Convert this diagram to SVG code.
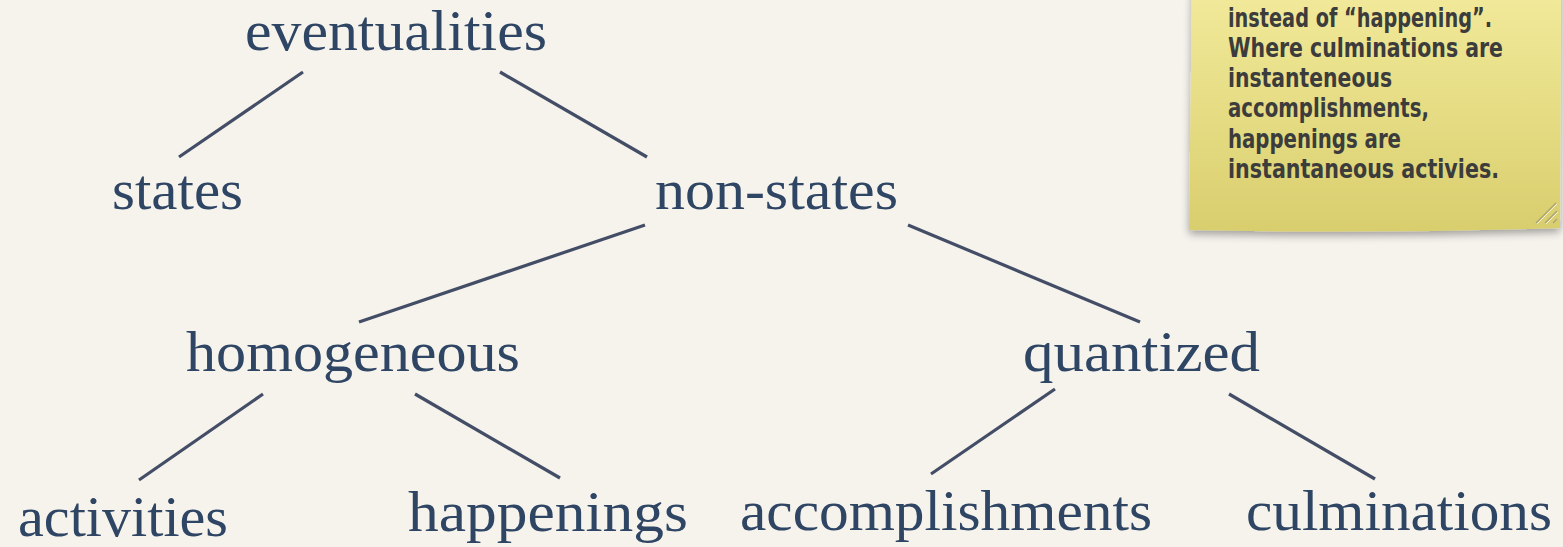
<svg xmlns="http://www.w3.org/2000/svg" width="1563" height="547" viewBox="0 0 1563 547">
<style>
.lbl{font-family:"Liberation Serif","Times New Roman",serif;font-size:58px;fill:#2f4564}
.note{font-family:"DejaVu Sans Condensed","DejaVu Sans",sans-serif;font-weight:bold;font-size:26px;fill:#3c3c3c}
.edge{stroke:#434e66;stroke-width:3.2;fill:none;stroke-linecap:butt}
</style>
<defs>
<linearGradient id="paper" x1="0" y1="0" x2="0" y2="1">
<stop offset="0" stop-color="#f2ea9b"/>
<stop offset="1" stop-color="#d9ce6d"/>
</linearGradient>
<filter id="sh" x="-10%" y="-10%" width="120%" height="130%">
<feGaussianBlur in="SourceAlpha" stdDeviation="4"/>
<feOffset dx="0" dy="4"/>
<feComponentTransfer><feFuncA type="linear" slope="0.35"/></feComponentTransfer>
<feMerge><feMergeNode/><feMergeNode in="SourceGraphic"/></feMerge>
</filter>
</defs>
<rect width="1563" height="547" fill="#f6f3ed"/>
<g id="connectors">
<line class="edge" x1="303" y1="72" x2="179" y2="157"/>
<line class="edge" x1="500" y1="72" x2="647" y2="157"/>
<line class="edge" x1="645" y1="225" x2="359" y2="322"/>
<line class="edge" x1="908" y1="225" x2="1140" y2="322"/>
<line class="edge" x1="263" y1="394" x2="139" y2="480"/>
<line class="edge" x1="415" y1="394" x2="560" y2="478"/>
<line class="edge" x1="1055" y1="389" x2="931" y2="474"/>
<line class="edge" x1="1229" y1="394" x2="1375" y2="479"/>
</g>
<g id="eventualities"><text class="lbl" x="245" y="50" textLength="302" lengthAdjust="spacingAndGlyphs">eventualities</text></g>
<g id="states"><text class="lbl" x="112" y="209" textLength="131" lengthAdjust="spacingAndGlyphs">states</text></g>
<g id="non-states"><text class="lbl" x="655" y="209" textLength="243" lengthAdjust="spacingAndGlyphs">non-states</text></g>
<g id="homogeneous"><text class="lbl" x="186" y="371" textLength="334" lengthAdjust="spacingAndGlyphs">homogeneous</text></g>
<g id="quantized"><text class="lbl" x="1023" y="371" textLength="237" lengthAdjust="spacingAndGlyphs">quantized</text></g>
<g id="activities"><text class="lbl" x="18" y="536" textLength="210" lengthAdjust="spacingAndGlyphs">activities</text></g>
<g id="happenings"><text class="lbl" x="408" y="531" textLength="280" lengthAdjust="spacingAndGlyphs">happenings</text></g>
<g id="accomplishments"><text class="lbl" x="740" y="530" textLength="412" lengthAdjust="spacingAndGlyphs">accomplishments</text></g>
<g id="culminations"><text class="lbl" x="1246" y="530" textLength="306" lengthAdjust="spacingAndGlyphs">culminations</text></g>
<g id="note">
<path d="M1192,-10 L1561,-10 L1560,228 Q1375,234 1189,230 Z" fill="url(#paper)" filter="url(#sh)"/>
<g stroke="#a9a27a" stroke-width="1.2">
<line x1="1536" y1="223" x2="1556" y2="203"/>
<line x1="1545" y1="223" x2="1557" y2="211"/>
<line x1="1553" y1="223" x2="1557" y2="219"/>
</g>
<g stroke="#ffffff" stroke-width="1" opacity="0.7">
<line x1="1537" y1="224" x2="1557" y2="204"/>
<line x1="1546" y1="224" x2="1558" y2="212"/>
</g>
<text class="note" x="1228" y="27" textLength="264" lengthAdjust="spacingAndGlyphs">instead of “happening”.</text>
<text class="note" x="1228" y="57" textLength="275" lengthAdjust="spacingAndGlyphs">Where culminations are</text>
<text class="note" x="1228" y="87" textLength="164" lengthAdjust="spacingAndGlyphs">instanteneous</text>
<text class="note" x="1228" y="117" textLength="201" lengthAdjust="spacingAndGlyphs">accomplishments,</text>
<text class="note" x="1228" y="148" textLength="173" lengthAdjust="spacingAndGlyphs">happenings are</text>
<text class="note" x="1228" y="178" textLength="271" lengthAdjust="spacingAndGlyphs">instantaneous activies.</text>
</g>
</svg>
